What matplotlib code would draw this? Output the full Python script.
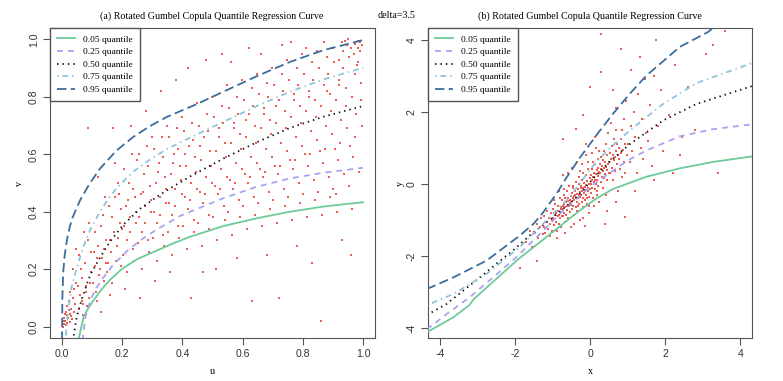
import numpy as np
from matplotlib import pyplot as plt
from matplotlib.lines import Line2D

plt.rcParams["font.family"] = ["Liberation Sans", "DejaVu Sans"]

LEVELS = ["0.05 quantile", "0.25 quantile", "0.50 quantile", "0.75 quantile", "0.95 quantile"]
COLORS = ["#6DCB99", "#A9A3F2", "#111111", "#8EC4DA", "#3B6C9B"]
STYLES = [
    "-",
    (0, (3.3, 2.8)),
    (0, (0.8, 2.2)),
    (0, (0.8, 2.2, 3.2, 2.2)),
    (0, (5.2, 2.4)),
]
POINT_COLOR = "#EB4B3F"

# ---- panel (a): copula scale, quantile curves ----
a_q05_u = [0.054, 0.072, 0.088, 0.104, 0.132, 0.16, 0.198, 0.25, 0.309, 0.37, 0.426, 0.536, 0.647, 0.758, 0.869, 1.0]
a_q05_v = [-0.05, 0.035, 0.065, 0.09, 0.13, 0.163, 0.2, 0.235, 0.262, 0.29, 0.313, 0.35, 0.377, 0.40, 0.418, 0.433]
a_q25_u = [0.068, 0.078, 0.094, 0.11, 0.137, 0.165, 0.215, 0.26, 0.315, 0.392, 0.426, 0.536, 0.647, 0.758, 0.869, 1.0]
a_q25_v = [-0.05, 0.035, 0.09, 0.128, 0.17, 0.209, 0.262, 0.3, 0.338, 0.385, 0.40, 0.447, 0.487, 0.516, 0.536, 0.553]
a_q50_u = [0.036, 0.049, 0.065, 0.087, 0.099, 0.126, 0.159, 0.204, 0.259, 0.326, 0.392, 0.426, 0.536, 0.647, 0.758, 0.869, 1.0]
a_q50_v = [-0.05, 0.035, 0.093, 0.162, 0.19, 0.24, 0.295, 0.355, 0.41, 0.46, 0.502, 0.523, 0.585, 0.642, 0.692, 0.731, 0.768]
a_q75_u = [0.011, 0.016, 0.021, 0.032, 0.049, 0.071, 0.095, 0.126, 0.155, 0.182, 0.237, 0.29, 0.348, 0.426, 0.536, 0.647, 0.758, 0.869, 1.0]
a_q75_v = [-0.05, 0.01, 0.06, 0.139, 0.205, 0.278, 0.34, 0.4, 0.447, 0.483, 0.54, 0.58, 0.618, 0.658, 0.713, 0.768, 0.818, 0.861, 0.901]
a_q95_u = [0.0, 0.001, 0.004, 0.009, 0.016, 0.025, 0.035, 0.06, 0.09, 0.126, 0.18, 0.236, 0.29, 0.348, 0.448, 0.536, 0.647, 0.758, 0.869, 1.0]
a_q95_v = [-0.05, 0.1, 0.19, 0.25, 0.3, 0.345, 0.38, 0.44, 0.495, 0.55, 0.612, 0.66, 0.697, 0.73, 0.775, 0.818, 0.872, 0.922, 0.963, 0.998]

# ---- panel (b): normal scale ----
b_q05_x = [-4.35, -3.65, -3.21, -3.1, -2.59, -1.88, -1.17, -0.63, -0.28, 0.2, 0.61, 1.5, 2.38, 3.27, 4.35]
b_q05_y = [-4.12, -3.71, -3.36, -3.2, -2.72, -2.06, -1.48, -1.03, -0.74, -0.38, -0.14, 0.2, 0.43, 0.61, 0.77]
b_q25_x = [-4.35, -3.83, -3.21, -2.59, -1.97, -1.34, -0.72, -0.3, 0.1, 0.61, 1.05, 1.5, 2.38, 3.27, 4.35]
b_q25_y = [-4.04, -3.62, -3.15, -2.6, -2.04, -1.39, -0.74, -0.35, 0.0, 0.37, 0.68, 0.93, 1.32, 1.52, 1.66]
b_q50_x = [-4.35, -3.83, -3.39, -2.94, -2.5, -2.06, -1.52, -0.99, -0.46, -0.2, 0.07, 0.55, 1.05, 1.94, 2.83, 4.35]
b_q50_y = [-3.64, -3.34, -2.97, -2.6, -2.22, -1.85, -1.35, -0.93, -0.46, -0.19, 0.14, 0.65, 1.1, 1.76, 2.22, 2.73]
b_q75_x = [-4.35, -3.65, -2.76, -1.88, -1.26, -0.55, 0.0, 0.17, 0.6, 1.05, 1.94, 2.83, 4.35]
b_q75_y = [-3.37, -3.06, -2.5, -1.76, -1.11, -0.37, 0.4, 0.62, 1.07, 1.48, 2.22, 2.8, 3.37]
b_q95_x = [-4.35, -3.65, -2.76, -1.88, -1.5, -1.26, -0.9, -0.64, -0.28, 0.2, 0.61, 1.05, 1.5, 2.38, 3.14, 3.4]
b_q95_y = [-2.92, -2.6, -2.13, -1.44, -1.1, -0.8, -0.28, 0.16, 0.72, 1.4, 1.95, 2.5, 3.01, 3.8, 4.22, 4.45]

# ---- scatter points ----
pts_a = np.array([
    (0.005, 0.01), (0.01, 0.02), (0.012, 0.005), (0.02, 0.03), (0.015, 0.04), (0.008, 0.03), (0.025, 0.015),
    (0.03, 0.06), (0.018, 0.07), (0.035, 0.1), (0.04, 0.05), (0.028, 0.12), (0.045, 0.15), (0.022, 0.09),
    (0.038, 0.2), (0.042, 0.08), (0.003, 0.0), (0.033, 0.025), (0.047, 0.27), (0.012, 0.05), (0.026, 0.045),
    (0.04, 0.13), (0.006, 0.018), (0.017, 0.012), (0.009, 0.045), (0.023, 0.058), (0.031, 0.038),
    (0.055, 0.06), (0.06, 0.11), (0.065, 0.17), (0.07, 0.08), (0.075, 0.22), (0.08, 0.14), (0.085, 0.3),
    (0.09, 0.1), (0.095, 0.19), (0.058, 0.25), (0.068, 0.04), (0.078, 0.12), (0.088, 0.36), (0.092, 0.15),
    (0.062, 0.2), (0.083, 0.07), (0.097, 0.26), (0.072, 0.33), (0.087, 0.69), (0.053, 0.14), (0.066, 0.09),
    (0.102, 0.15), (0.108, 0.21), (0.112, 0.12), (0.118, 0.28), (0.122, 0.18), (0.128, 0.35), (0.132, 0.24),
    (0.138, 0.16), (0.142, 0.45), (0.147, 0.3), (0.105, 0.26), (0.115, 0.09), (0.125, 0.2), (0.135, 0.39),
    (0.145, 0.22), (0.11, 0.33), (0.14, 0.27), (0.12, 0.52), (0.13, 0.05), (0.148, 0.19), (0.117, 0.24),
    (0.152, 0.22), (0.158, 0.3), (0.162, 0.26), (0.167, 0.38), (0.172, 0.33), (0.177, 0.45), (0.182, 0.28),
    (0.187, 0.5), (0.192, 0.36), (0.197, 0.21), (0.155, 0.42), (0.165, 0.15), (0.175, 0.57), (0.185, 0.31),
    (0.195, 0.41), (0.16, 0.11), (0.17, 0.69), (0.19, 0.46), (0.18, 0.23), (0.198, 0.34),
    (0.202, 0.25), (0.207, 0.35), (0.212, 0.42), (0.217, 0.3), (0.222, 0.5), (0.227, 0.38), (0.232, 0.6),
    (0.237, 0.27), (0.242, 0.45), (0.247, 0.36), (0.205, 0.55), (0.215, 0.19), (0.225, 0.33), (0.235, 0.48),
    (0.245, 0.4), (0.21, 0.13), (0.23, 0.7), (0.24, 0.23), (0.22, 0.44), (0.248, 0.58),
    (0.252, 0.29), (0.257, 0.38), (0.262, 0.46), (0.267, 0.33), (0.272, 0.53), (0.277, 0.42), (0.282, 0.63),
    (0.287, 0.3), (0.292, 0.49), (0.297, 0.4), (0.255, 0.6), (0.265, 0.2), (0.275, 0.36), (0.285, 0.56),
    (0.295, 0.44), (0.26, 0.1), (0.28, 0.75), (0.29, 0.26), (0.27, 0.47), (0.298, 0.66),
    (0.302, 0.31), (0.307, 0.4), (0.312, 0.5), (0.317, 0.36), (0.322, 0.57), (0.327, 0.45), (0.332, 0.66),
    (0.337, 0.32), (0.342, 0.52), (0.347, 0.43), (0.305, 0.62), (0.315, 0.23), (0.325, 0.39), (0.335, 0.59),
    (0.345, 0.48), (0.31, 0.16), (0.33, 0.82), (0.34, 0.28), (0.32, 0.54), (0.348, 0.7),
    (0.352, 0.33), (0.357, 0.43), (0.362, 0.53), (0.367, 0.39), (0.372, 0.6), (0.377, 0.48), (0.382, 0.69),
    (0.387, 0.35), (0.392, 0.56), (0.397, 0.46), (0.355, 0.66), (0.365, 0.25), (0.375, 0.42), (0.385, 0.62),
    (0.395, 0.51), (0.36, 0.19), (0.38, 0.86), (0.39, 0.31), (0.37, 0.57), (0.398, 0.73),
    (0.402, 0.35), (0.407, 0.45), (0.412, 0.56), (0.417, 0.41), (0.422, 0.63), (0.427, 0.5), (0.432, 0.71),
    (0.437, 0.37), (0.442, 0.59), (0.447, 0.48), (0.405, 0.68), (0.415, 0.27), (0.425, 0.44), (0.435, 0.65),
    (0.445, 0.54), (0.43, 0.1), (0.42, 0.9), (0.44, 0.33), (0.41, 0.6), (0.448, 0.78),
    (0.452, 0.36), (0.457, 0.47), (0.462, 0.58), (0.467, 0.43), (0.472, 0.66), (0.477, 0.52), (0.482, 0.74),
    (0.487, 0.39), (0.492, 0.61), (0.497, 0.5), (0.455, 0.7), (0.465, 0.28), (0.475, 0.46), (0.485, 0.68),
    (0.495, 0.56), (0.47, 0.19), (0.48, 0.93), (0.49, 0.34), (0.46, 0.63), (0.498, 0.8),
    (0.502, 0.38), (0.507, 0.49), (0.512, 0.61), (0.517, 0.46), (0.522, 0.69), (0.527, 0.55), (0.532, 0.77),
    (0.537, 0.42), (0.542, 0.64), (0.547, 0.52), (0.505, 0.73), (0.515, 0.3), (0.525, 0.48), (0.535, 0.71),
    (0.545, 0.59), (0.51, 0.2), (0.53, 0.95), (0.54, 0.37), (0.52, 0.66), (0.548, 0.84),
    (0.552, 0.4), (0.557, 0.51), (0.562, 0.64), (0.567, 0.48), (0.572, 0.71), (0.577, 0.57), (0.582, 0.8),
    (0.587, 0.44), (0.592, 0.67), (0.597, 0.55), (0.555, 0.76), (0.565, 0.32), (0.575, 0.5), (0.585, 0.74),
    (0.595, 0.62), (0.58, 0.24), (0.56, 0.92), (0.59, 0.38), (0.57, 0.69), (0.598, 0.86),
    (0.602, 0.42), (0.607, 0.53), (0.612, 0.66), (0.617, 0.5), (0.622, 0.74), (0.627, 0.59), (0.632, 0.83),
    (0.637, 0.45), (0.642, 0.7), (0.647, 0.57), (0.605, 0.79), (0.615, 0.34), (0.625, 0.52), (0.635, 0.77),
    (0.645, 0.64), (0.63, 0.09), (0.62, 0.97), (0.64, 0.39), (0.61, 0.72), (0.648, 0.88),
    (0.652, 0.43), (0.657, 0.55), (0.662, 0.69), (0.667, 0.52), (0.672, 0.76), (0.677, 0.62), (0.682, 0.85),
    (0.687, 0.47), (0.692, 0.72), (0.697, 0.59), (0.655, 0.81), (0.665, 0.35), (0.675, 0.54), (0.685, 0.8),
    (0.695, 0.67), (0.68, 0.25), (0.66, 0.95), (0.69, 0.41), (0.67, 0.74), (0.698, 0.9),
    (0.702, 0.44), (0.707, 0.56), (0.712, 0.71), (0.717, 0.53), (0.722, 0.79), (0.727, 0.64), (0.732, 0.88),
    (0.737, 0.48), (0.742, 0.75), (0.747, 0.61), (0.705, 0.84), (0.715, 0.36), (0.725, 0.56), (0.735, 0.82),
    (0.745, 0.69), (0.72, 0.1), (0.73, 0.98), (0.74, 0.42), (0.71, 0.77), (0.748, 0.93),
    (0.752, 0.45), (0.757, 0.58), (0.762, 0.73), (0.767, 0.55), (0.772, 0.81), (0.777, 0.66), (0.782, 0.9),
    (0.787, 0.5), (0.792, 0.77), (0.797, 0.63), (0.755, 0.86), (0.765, 0.37), (0.775, 0.58), (0.785, 0.84),
    (0.795, 0.71), (0.78, 0.28), (0.76, 0.99), (0.79, 0.43), (0.77, 0.79), (0.798, 0.95),
    (0.802, 0.46), (0.807, 0.6), (0.812, 0.75), (0.817, 0.56), (0.822, 0.82), (0.827, 0.68), (0.832, 0.92),
    (0.837, 0.51), (0.842, 0.79), (0.847, 0.65), (0.805, 0.88), (0.815, 0.38), (0.825, 0.6), (0.835, 0.86),
    (0.845, 0.73), (0.83, 0.22), (0.81, 0.97), (0.84, 0.44), (0.82, 0.8), (0.848, 0.96),
    (0.852, 0.47), (0.857, 0.61), (0.862, 0.77), (0.867, 0.57), (0.872, 0.84), (0.877, 0.7), (0.882, 0.94),
    (0.887, 0.52), (0.892, 0.81), (0.897, 0.67), (0.855, 0.9), (0.865, 0.39), (0.875, 0.62), (0.885, 0.88),
    (0.895, 0.75), (0.86, 0.02), (0.87, 0.99), (0.89, 0.45), (0.88, 0.82), (0.898, 0.97),
    (0.902, 0.48), (0.907, 0.62), (0.912, 0.79), (0.917, 0.58), (0.922, 0.86), (0.927, 0.72), (0.932, 0.96),
    (0.937, 0.53), (0.942, 0.83), (0.947, 0.69), (0.905, 0.92), (0.915, 0.4), (0.925, 0.64), (0.935, 0.9),
    (0.945, 0.77), (0.93, 0.3), (0.94, 0.995), (0.91, 0.46), (0.92, 0.84), (0.948, 0.98),
    (0.952, 0.49), (0.957, 0.63), (0.962, 0.8), (0.967, 0.59), (0.972, 0.88), (0.977, 0.74), (0.982, 0.97),
    (0.987, 0.54), (0.992, 0.85), (0.997, 0.7), (0.955, 0.94), (0.965, 0.41), (0.975, 0.66), (0.985, 0.92),
    (0.995, 0.79), (0.96, 0.25), (0.99, 0.99), (0.97, 0.95), (0.98, 0.91), (0.998, 0.98),
    (0.93, 0.99), (0.96, 0.97), (0.985, 0.995), (0.9, 0.97), (0.95, 1.0), (0.975, 0.985), (0.92, 0.93), (0.99, 0.96),
])

pts_b = np.array([
    (-1.7, -1.6), (-1.6, -1.3), (-1.55, -1.75),
    (-1.48, -1.35), (-1.42, -1.1), (-1.38, -1.5), (-1.33, -1.2), (-1.3, -0.95), (-1.27, -1.4),
    (-1.24, -1.2), (-1.22, -0.9), (-1.2, -1.35), (-1.17, -1.05), (-1.15, -0.75), (-1.12, -1.25),
    (-1.1, -0.95), (-1.08, -1.45), (-1.06, -1.1), (-1.04, -0.8), (-1.02, -1.0), (-1.01, -1.3),
    (-0.99, -0.95), (-0.98, -0.7), (-0.96, -1.15), (-0.95, -0.85), (-0.93, -0.55), (-0.92, -1.05),
    (-0.9, -0.8), (-0.89, -1.3), (-0.87, -0.9), (-0.86, -0.6), (-0.85, -0.75), (-0.84, -1.1),
    (-0.82, -0.85), (-0.81, -0.4), (-0.8, -0.95), (-0.79, -0.7), (-0.78, -1.2), (-0.77, -0.65),
    (-0.76, -0.88), (-0.97, -0.45), (-0.88, -1.5), (-0.83, -0.2),
    (-0.75, -0.7), (-0.74, -0.45), (-0.73, -0.9), (-0.72, -0.6), (-0.71, -0.3), (-0.7, -0.8),
    (-0.69, -0.55), (-0.68, -1.05), (-0.67, -0.65), (-0.66, -0.4), (-0.65, -0.5), (-0.64, -0.85),
    (-0.63, -0.6), (-0.62, -0.2), (-0.61, -0.72), (-0.6, -0.48), (-0.59, -0.95), (-0.58, -0.38),
    (-0.57, -0.62), (-0.56, -0.05), (-0.55, -0.52), (-0.54, -0.78), (-0.53, -0.44), (-0.52, -1.2),
    (-0.51, -0.58), (-0.5, -0.33), (-0.73, 0.25), (-0.66, -1.35), (-0.58, 0.3), (-0.7, -0.15),
    (-0.5, -0.5), (-0.49, -0.25), (-0.48, -0.7), (-0.47, -0.4), (-0.46, -0.1), (-0.45, -0.6),
    (-0.44, -0.33), (-0.43, -0.85), (-0.42, -0.45), (-0.41, -0.2), (-0.4, -0.3), (-0.39, -0.65),
    (-0.38, -0.38), (-0.37, 0.05), (-0.36, -0.5), (-0.35, -0.27), (-0.34, -0.75), (-0.33, -0.15),
    (-0.32, -0.4), (-0.31, 0.2), (-0.3, -0.32), (-0.29, -0.55), (-0.28, -0.22), (-0.27, -1.0),
    (-0.26, -0.36), (-0.25, -0.1), (-0.48, 0.45), (-0.42, -1.1), (-0.36, 0.6), (-0.3, 0.0),
    (-0.45, -0.05), (-0.33, -0.6), (-0.28, 0.35), (-0.38, 1.53),
    (-0.25, -0.3), (-0.24, -0.05), (-0.23, -0.5), (-0.22, -0.2), (-0.21, 0.1), (-0.2, -0.38),
    (-0.19, -0.12), (-0.18, -0.65), (-0.17, -0.25), (-0.16, 0.02), (-0.15, -0.08), (-0.14, -0.45),
    (-0.13, -0.18), (-0.12, 0.25), (-0.11, -0.3), (-0.1, -0.03), (-0.09, -0.55), (-0.08, 0.08),
    (-0.07, -0.2), (-0.06, 0.4), (-0.05, -0.1), (-0.04, -0.35), (-0.03, 0.0), (-0.02, -0.8),
    (-0.01, -0.15), (0.0, 0.15), (-0.22, 0.55), (-0.18, -0.95), (-0.12, 0.8), (-0.08, -0.4),
    (-0.2, 0.3), (-0.05, 0.6), (-0.15, -1.16), (-0.1, 1.1), (-0.03, -0.6),
    (0.01, 0.0), (0.02, 0.25), (0.03, -0.25), (0.04, 0.1), (0.05, 0.4), (0.06, -0.1), (0.07, 0.18),
    (0.08, -0.4), (0.09, 0.05), (0.1, 0.3), (0.11, 0.2), (0.12, -0.15), (0.13, 0.12), (0.14, 0.55),
    (0.15, 0.0), (0.16, 0.28), (0.17, -0.3), (0.18, 0.38), (0.19, 0.1), (0.2, 0.7), (0.21, 0.22),
    (0.22, -0.05), (0.23, 0.33), (0.24, -0.5), (0.05, 0.85), (0.1, -0.6), (0.15, 1.0), (0.2, 0.45),
    (0.08, 0.6), (0.18, -0.2), (0.12, 1.3), (0.23, 0.9),
    (0.26, 0.3), (0.27, 0.55), (0.28, 0.05), (0.29, 0.4), (0.3, 0.75), (0.31, 0.2), (0.32, 0.5),
    (0.33, -0.1), (0.34, 0.35), (0.35, 0.65), (0.36, 0.45), (0.37, 0.15), (0.38, 0.9), (0.39, 0.28),
    (0.4, 0.6), (0.41, -0.3), (0.42, 0.48), (0.43, 1.1), (0.44, 0.38), (0.45, 0.8), (0.46, 0.1),
    (0.47, 0.55), (0.48, 1.4), (0.49, 0.3), (0.39, -1.1), (0.3, 3.1),
    (0.51, 0.6), (0.53, 0.85), (0.54, 0.3), (0.56, 0.7), (0.57, 1.05), (0.59, 0.45), (0.6, 0.8),
    (0.62, 0.1), (0.63, 0.65), (0.64, 1.25), (0.66, 0.75), (0.67, 0.35), (0.68, 1.5), (0.7, 0.9),
    (0.71, 0.55), (0.72, 1.1), (0.73, -0.2), (0.74, 0.8), (0.55, 1.7), (0.69, 2.1),
    (0.76, 0.7), (0.78, 1.0), (0.79, 0.4), (0.81, 1.25), (0.83, 0.85), (0.84, 0.2), (0.86, 1.5),
    (0.88, 0.95), (0.89, 0.6), (0.91, 1.8), (0.93, 1.1), (0.94, 0.3), (0.96, 2.3), (0.98, 0.8), (0.92, -0.93),
    (1.02, 1.1), (1.05, 0.6), (1.08, 1.6), (1.1, 3.17), (1.12, 0.9), (1.16, 2.0), (1.2, 1.3), (1.24, 0.3),
    (1.28, 2.5), (1.32, 3.52), (1.35, 1.0), (1.38, 1.8), (1.42, 0.7), (1.46, 2.9), (1.49, 1.4),
    (1.55, 1.2), (1.6, 2.2), (1.65, 0.5), (1.7, 3.0), (1.76, 4.01), (1.8, 1.6), (1.88, 2.6), (1.95, 0.9),
    (2.1, 1.9), (2.25, 3.3), (2.4, 0.8), (2.6, 2.7), (2.8, 1.5), (3.09, 3.62), (3.27, 3.85), (3.4, 0.29),
    (3.58, 4.24), (2.45, 1.3),
    (0.3, 4.17), (0.83, 3.75), (-0.73, 1.25), (0.0, 2.7), (-0.2, 1.9), (0.6, 2.6),
    (-1.43, -2.15), (-1.88, -2.34), (0.45, -0.75), (0.7, -0.5), (1.2, -0.2), (1.7, 0.1), (2.2, 0.3),
])

W, H = 783, 381
fig = plt.figure(figsize=(W / 100, H / 100), dpi=100)
ax1 = fig.add_axes([50 / W, 43 / H, 325 / W, 310 / H])
ax2 = fig.add_axes([428 / W, 43 / H, 324 / W, 310 / H])

SERIF = "Liberation Serif"


def draw_panel(ax, pts, curves, xlim, ylim, ticks):
    ax.scatter(pts[:, 0], pts[:, 1], s=3.2, marker="s", color=POINT_COLOR,
               alpha=0.9, linewidths=0, zorder=2)
    for (cx, cy), col, ls in zip(curves, COLORS, STYLES):
        ax.plot(cx, cy, color=col, linestyle=ls, lw=1.3, zorder=3)
    ax.set_xlim(*xlim)
    ax.set_ylim(*ylim)
    ax.set_xticks(ticks[0])
    ax.set_yticks(ticks[1])
    ax.set_xticklabels(ticks[2])
    ax.set_yticklabels(ticks[3], rotation=90, va="center")
    ax.tick_params(direction="out", length=5, width=0.8, color="#555555",
                   labelsize=7.6, labelcolor="#333333", pad=3)
    for sp in ax.spines.values():
        sp.set_color("#555555")
        sp.set_linewidth(0.8)
    handles = [Line2D([], [], color=c, linestyle=s, lw=1.3) for c, s in zip(COLORS, STYLES)]
    ax.legend(handles, LEVELS, loc="upper left", bbox_to_anchor=(0, 1),
              borderaxespad=0, fancybox=False, edgecolor="#555555", framealpha=1,
              prop={"family": SERIF, "size": 6.8}, handlelength=1.9,
              handletextpad=0.85, labelspacing=0.42, borderpad=0.75)


unit = [0.0, 0.2, 0.4, 0.6, 0.8, 1.0]
unit_lab = ["0.0", "0.2", "0.4", "0.6", "0.8", "1.0"]
draw_panel(ax1, pts_a,
           [(a_q05_u, a_q05_v), (a_q25_u, a_q25_v), (a_q50_u, a_q50_v),
            (a_q75_u, a_q75_v), (a_q95_u, a_q95_v)],
           (-0.04, 1.04), (-0.04, 1.04), (unit, unit, unit_lab, unit_lab))

norm = [-4, -2, 0, 2, 4]
norm_lab = ["-4", "-2", "0", "2", "4"]
draw_panel(ax2, pts_b,
           [(b_q05_x, b_q05_y), (b_q25_x, b_q25_y), (b_q50_x, b_q50_y),
            (b_q75_x, b_q75_y), (b_q95_x, b_q95_y)],
           (-4.32, 4.31), (-4.28, 4.33), (norm, norm, norm_lab, norm_lab))

ty = 1 - 16 / H
fig.text(212 / W, ty, "(a) Rotated Gumbel Copula Quantile Regression Curve",
         family=SERIF, size=7.2, ha="center", va="center")
fig.text(590 / W, ty, "(b) Rotated Gumbel Copula Quantile Regression Curve",
         family=SERIF, size=7.2, ha="center", va="center")
fig.text(397 / W, ty, "delta=3.5", family=SERIF, size=7.2, ha="center", va="center")

ly = 1 - 372 / H
fig.text(212 / W, ly, "u", family=SERIF, size=7.2, ha="center", va="center")
fig.text(590 / W, ly, "x", family=SERIF, size=7.2, ha="center", va="center")
fig.text(20 / W, 1 - 183 / H, "v", family=SERIF, size=7.2, ha="center", va="center", rotation=90)
fig.text(400 / W, 1 - 183 / H, "y", family=SERIF, size=7.2, ha="center", va="center", rotation=90)

fig.savefig("out.png", dpi=100)
